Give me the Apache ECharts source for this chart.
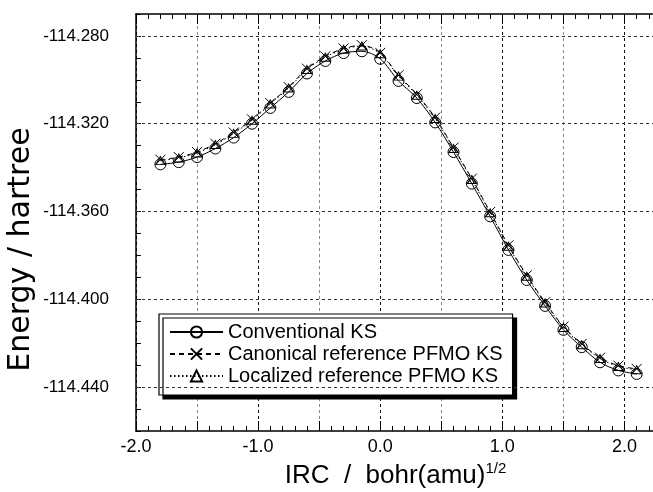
<!DOCTYPE html>
<html>
<head>
<meta charset="utf-8">
<script src="https://cdn.jsdelivr.net/npm/echarts@6/dist/echarts.min.js"></script>
<style>
html,body{margin:0;padding:0;background:#fff;}
#chart{width:653px;height:492px;}
</style>
</head>
<body>
<div id="chart"></div>
<script>
// IRC coordinate, bohr(amu)^1/2
const irc = [-1.80,-1.65,-1.50,-1.35,-1.20,-1.05,-0.90,-0.75,-0.60,-0.45,-0.30,-0.15,0.00,0.15,0.30,0.45,0.60,0.75,0.90,1.05,1.20,1.35,1.50,1.65,1.80,1.95,2.10];
// Energies, hartree
const conventionalKS = [-114.3385,-114.3375,-114.3352,-114.3313,-114.3263,-114.3200,-114.3128,-114.3055,-114.2971,-114.2914,-114.2878,-114.2870,-114.2904,-114.3005,-114.3083,-114.3194,-114.3329,-114.3473,-114.3622,-114.3775,-114.3912,-114.4030,-114.4139,-114.4218,-114.4287,-114.4324,-114.4340];
const canonicalPFMO = [-114.3364,-114.3352,-114.3329,-114.3291,-114.3240,-114.3180,-114.3106,-114.3033,-114.2949,-114.2893,-114.2857,-114.2842,-114.2877,-114.2979,-114.3066,-114.3172,-114.3309,-114.3450,-114.3602,-114.3754,-114.3891,-114.4013,-114.4124,-114.4203,-114.4266,-114.4302,-114.4317];
const localizedPFMO = [-114.3368,-114.3356,-114.3333,-114.3295,-114.3244,-114.3184,-114.3110,-114.3037,-114.2953,-114.2897,-114.2861,-114.2846,-114.2881,-114.2983,-114.3070,-114.3176,-114.3313,-114.3454,-114.3606,-114.3758,-114.3895,-114.4017,-114.4128,-114.4207,-114.4270,-114.4306,-114.4321];
const yGridValues = [-114.28,-114.32,-114.36,-114.40,-114.44];
const seriesNames = ['Conventional KS','Canonical reference PFMO KS','Localized reference PFMO KS'];

const FONT = "'Liberation Sans', Arial, Helvetica, sans-serif";
const pair = (ys) => irc.map((x, i) => [x, ys[i]]);

const chart = echarts.init(document.getElementById('chart'), null, {renderer: 'canvas'});

const xCommon = {
  type: 'value', min: -2.0, max: 2.25, interval: 0.5
};

chart.setOption({
  animation: false,
  backgroundColor: '#fff',
  textStyle: {fontFamily: FONT},
  grid: {left: 136, top: 14, bottom: 61, right: -2, containLabel: false, outerBoundsMode: 'none'},
  legend: {
    orient: 'vertical',
    left: 159, top: 314,
    data: seriesNames,
    itemWidth: 53, itemHeight: 14, itemGap: 2,
    padding: [8, 10, 9, 10],
    backgroundColor: '#fff',
    borderColor: '#000', borderWidth: 1.2,
    shadowColor: '#000', shadowBlur: 0, shadowOffsetX: 4, shadowOffsetY: 4,
    textStyle: {fontFamily: FONT, fontSize: 20, color: '#000', lineHeight: 20}
  },
  xAxis: [
    Object.assign({}, xCommon, {
      position: 'bottom',
      name: 'IRC  /  bohr(amu){sup|1/2}',
      nameLocation: 'middle', nameGap: 27,
      nameTextStyle: {fontFamily: FONT, fontSize: 26, color: '#000',
        rich: {sup: {fontFamily: FONT, fontSize: 15, color: '#000', padding: [0, 0, 14, 0]}}},
      axisLine: {show: true, onZero: false, lineStyle: {color: '#000', width: 1.5}},
      axisTick: {show: true, inside: true, length: 10, lineStyle: {color: '#000', width: 1}},
      minorTick: {show: true, splitNumber: 5, length: 5, lineStyle: {color: '#000', width: 1}},
      axisLabel: {fontFamily: FONT, fontSize: 18, color: '#000', margin: 7,
        formatter: v => Math.abs(v - Math.round(v)) < 1e-6 ? v.toFixed(1) : ''},
      splitLine: {show: true, lineStyle: {color: '#888', width: 1, type: [3, 3]}}
    }),
    Object.assign({}, xCommon, {
      position: 'top',
      axisLine: {show: true, onZero: false, lineStyle: {color: '#000', width: 1.5}},
      axisTick: {show: true, inside: true, length: 10, lineStyle: {color: '#000', width: 1}},
      minorTick: {show: true, splitNumber: 5, length: 5, lineStyle: {color: '#000', width: 1}},
      axisLabel: {show: false},
      splitLine: {show: false}
    }),
    {
      type: 'value', min: -2.0, max: 2.25, interval: 1.0, position: 'bottom',
      axisLine: {show: false}, axisTick: {show: false}, axisLabel: {show: false},
      splitLine: {show: true, lineStyle: {color: '#111', width: 1, type: [3, 3]}}
    }
  ],
  yAxis: [{
    type: 'value', min: -114.46, max: -114.27, interval: 0.01,
    name: 'Energy / hartree', nameLocation: 'middle', nameGap: 100, nameMoveOverlap: false,
    nameTextStyle: {fontFamily: "'DejaVu Sans', 'Liberation Sans', sans-serif", fontSize: 30, color: '#000', padding: [0, 54, 0, 0]},
    axisLine: {show: true, onZero: false, lineStyle: {color: '#000', width: 1.5}},
    axisTick: {show: true, inside: true, length: 5, lineStyle: {color: '#000', width: 1}},
    axisLabel: {fontFamily: FONT, fontSize: 17, color: '#000', margin: 27,
      formatter: v => (Math.round(v * 100) % 4 === 0) ? v.toFixed(3) : ''},
    splitLine: {show: false}
  }],
  series: [
    {
      name: seriesNames[0], type: 'line', xAxisIndex: 0, data: pair(conventionalKS),
      symbol: 'circle', symbolSize: 11, smooth: 0.3,
      lineStyle: {color: '#000', width: 1, type: 'solid'},
      itemStyle: {color: 'rgba(255,255,255,0)', borderColor: '#000', borderWidth: 1},
      markLine: {
        silent: true, symbol: 'none', label: {show: false},
        lineStyle: {color: '#333', width: 1, type: [3, 3]},
        emphasis: {disabled: true},
        data: yGridValues.map(v => ({yAxis: v}))
      },
      z: 3
    },
    {
      name: seriesNames[1], type: 'line', xAxisIndex: 0, data: pair(canonicalPFMO),
      symbol: 'path://M0 0L10 10M10 0L0 10', symbolSize: 10, smooth: 0.3,
      lineStyle: {color: '#000', width: 1, type: [5, 4]},
      itemStyle: {color: 'rgba(255,255,255,0)', borderColor: '#000', borderWidth: 1},
      z: 4
    },
    {
      name: seriesNames[2], type: 'line', xAxisIndex: 0, data: pair(localizedPFMO),
      symbol: 'triangle', symbolSize: [9, 8], smooth: 0.3,
      lineStyle: {color: '#000', width: 1, type: [1.5, 2.5]},
      itemStyle: {color: 'rgba(255,255,255,0)', borderColor: '#000', borderWidth: 1},
      z: 5
    }
  ]
});
</script>
</body>
</html>
